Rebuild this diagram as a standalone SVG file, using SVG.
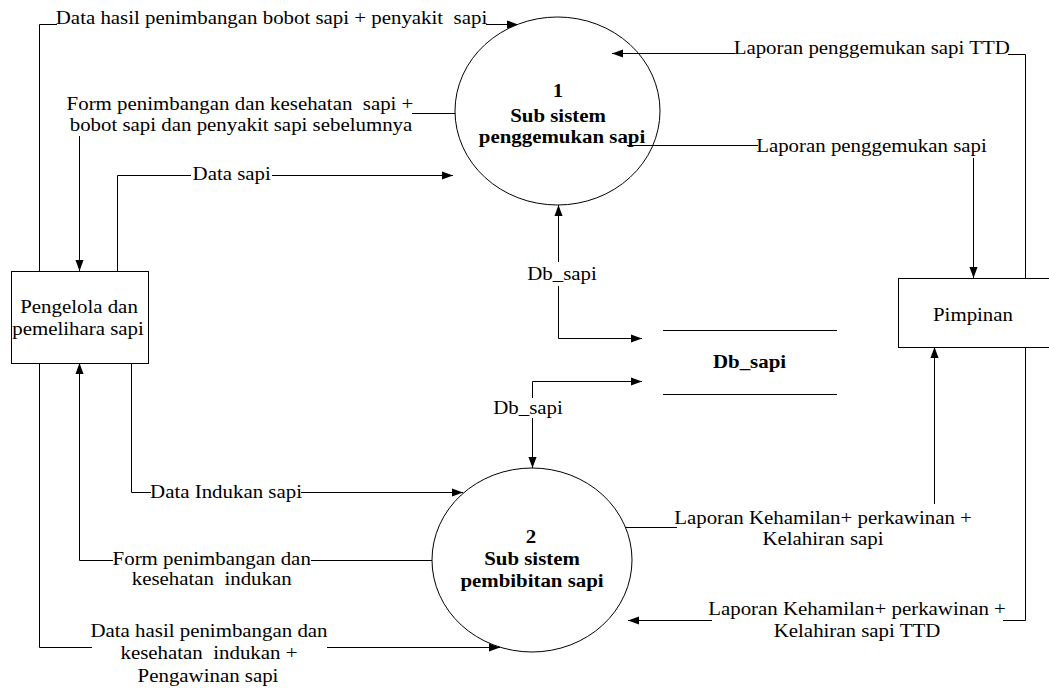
<svg xmlns="http://www.w3.org/2000/svg" width="1049" height="689" viewBox="0 0 1049 689">
  <style>
    text { font-family: "Liberation Serif", "Times New Roman", serif; font-size: 18px; fill: #000; white-space: pre; text-anchor: middle; }
    .b { font-weight: bold; }
    .ln { fill: none; stroke: #000; stroke-width: 1; }
    .shape { fill: none; stroke: #000; stroke-width: 1; }
  </style>
  <defs>
    <marker id="ah" viewBox="0 0 10 10" refX="10" refY="5" markerWidth="11" markerHeight="9" markerUnits="userSpaceOnUse" orient="auto-start-reverse" preserveAspectRatio="none">
      <path d="M0,0.5 L10,5 L0,9.5 Z" fill="#000"/>
    </marker>
  </defs>
  <rect width="1049" height="689" fill="#fff"/>

  <!-- connectors; labels are set in a slightly widened Times face -->
  <g id="connectors">
    <!-- Data hasil penimbangan bobot sapi + penyakit sapi -->
    <path class="ln" d="M39.5,271 V24.5 H57"/>
    <path class="ln" d="M486,24.5 H518" marker-end="url(#ah)"/>
    <text transform="translate(271.5 24) scale(1.16 1)">Data hasil penimbangan bobot sapi + penyakit  sapi</text>

    <!-- Form penimbangan dan kesehatan sapi -->
    <path class="ln" d="M455,113.5 H412"/>
    <path class="ln" d="M79.5,136 V271" marker-end="url(#ah)"/>
    <text transform="translate(240 110) scale(1.16 1)">Form penimbangan dan kesehatan  sapi +</text>
    <text transform="translate(241 131) scale(1.16 1)">bobot sapi dan penyakit sapi sebelumnya</text>

    <!-- Data sapi -->
    <path class="ln" d="M117.5,271 V175.5 H191"/>
    <path class="ln" d="M272,175.5 H453" marker-end="url(#ah)"/>
    <text transform="translate(231.7 179.5) scale(1.16 1)">Data sapi</text>

    <!-- Laporan penggemukan sapi TTD -->
    <path class="ln" d="M1025.5,278 V54.5 H1008"/>
    <path class="ln" d="M735,53.5 H612" marker-end="url(#ah)"/>
    <text transform="translate(871.7 54) scale(1.16 1)">Laporan penggemukan sapi TTD</text>

    <!-- Laporan penggemukan sapi -->
    <path class="ln" d="M627,145.5 H758"/>
    <path class="ln" d="M973.5,158 V278" marker-end="url(#ah)"/>
    <text transform="translate(871.5 152) scale(1.16 1)">Laporan penggemukan sapi</text>

    <!-- Db_sapi (process 1 <-> store) -->
    <path class="ln" d="M558.5,262 V205" marker-end="url(#ah)"/>
    <path class="ln" d="M558.5,286 V338.5 H642" marker-end="url(#ah)"/>
    <text transform="translate(562 280) scale(1.16 1)">Db_sapi</text>

    <!-- Db_sapi (store <-> process 2) -->
    <path class="ln" d="M532.5,398 V381.5 H642" marker-end="url(#ah)"/>
    <path class="ln" d="M532.5,418 V468" marker-end="url(#ah)"/>
    <text transform="translate(528 414) scale(1.16 1)">Db_sapi</text>

    <!-- Data Indukan sapi -->
    <path class="ln" d="M131.5,363 V492.5 H151"/>
    <path class="ln" d="M301,492.5 H463" marker-end="url(#ah)"/>
    <text transform="translate(226 498) scale(1.16 1)">Data Indukan sapi</text>

    <!-- Form penimbangan dan kesehatan indukan -->
    <path class="ln" d="M432,560.5 H311"/>
    <path class="ln" d="M113,560.5 H79.5 V363" marker-end="url(#ah)"/>
    <text transform="translate(211.7 565) scale(1.16 1)">Form penimbangan dan</text>
    <text transform="translate(211.7 585) scale(1.16 1)">kesehatan  indukan</text>

    <!-- Data hasil penimbangan dan kesehatan indukan + Pengawinan sapi -->
    <path class="ln" d="M39.5,363 V647.5 H92"/>
    <path class="ln" d="M327,647.5 H500" marker-end="url(#ah)"/>
    <text transform="translate(209 636.5) scale(1.16 1)">Data hasil penimbangan dan</text>
    <text transform="translate(209 659) scale(1.16 1)">kesehatan  indukan +</text>
    <text transform="translate(208 682) scale(1.16 1)">Pengawinan sapi</text>

    <!-- Laporan Kehamilan (process 2 -> Pimpinan) -->
    <path class="ln" d="M625,527.5 H677"/>
    <path class="ln" d="M934.5,504 V347" marker-end="url(#ah)"/>
    <text transform="translate(823 524) scale(1.16 1)">Laporan Kehamilan+ perkawinan +</text>
    <text transform="translate(823 545) scale(1.16 1)">Kelahiran sapi</text>

    <!-- Laporan Kehamilan TTD (Pimpinan -> process 2) -->
    <path class="ln" d="M1025.5,347 V620.5 H1003"/>
    <path class="ln" d="M712,620.5 H628" marker-end="url(#ah)"/>
    <text transform="translate(857 615) scale(1.16 1)">Laporan Kehamilan+ perkawinan +</text>
    <text transform="translate(857 637) scale(1.16 1)">Kelahiran sapi TTD</text>
  </g>

  <!-- process 1 -->
  <g id="proc1">
    <ellipse class="shape" cx="557.5" cy="111" rx="102.5" ry="94"/>
    <text class="b" transform="translate(558 97) scale(1.16 1)">1</text>
    <text class="b" transform="translate(558 122) scale(1.16 1)">Sub sistem</text>
    <text class="b" transform="translate(562 143) scale(1.16 1)">penggemukan sapi</text>
  </g>

  <!-- process 2 -->
  <g id="proc2">
    <ellipse class="shape" cx="532" cy="560" rx="100" ry="92"/>
    <text class="b" transform="translate(531 543) scale(1.16 1)">2</text>
    <text class="b" transform="translate(532 565) scale(1.16 1)">Sub sistem</text>
    <text class="b" transform="translate(532 587) scale(1.16 1)">pembibitan sapi</text>
  </g>

  <!-- external entity: Pengelola dan pemelihara sapi -->
  <g id="pengelola">
    <rect class="shape" x="11.5" y="271.5" width="137" height="92"/>
    <text transform="translate(79 313) scale(1.16 1)">Pengelola dan</text>
    <text transform="translate(78 334.5) scale(1.16 1)">pemelihara sapi</text>
  </g>

  <!-- external entity: Pimpinan -->
  <g id="pimpinan">
    <rect class="shape" x="898.5" y="278.5" width="160" height="69"/>
    <text transform="translate(973 321) scale(1.16 1)">Pimpinan</text>
  </g>

  <!-- data store -->
  <g id="db_sapi">
    <line class="ln" x1="663" y1="330.5" x2="837" y2="330.5"/>
    <line class="ln" x1="663" y1="394.5" x2="837" y2="394.5"/>
    <text class="b" transform="translate(749.5 368) scale(1.16 1)">Db_sapi</text>
  </g>
</svg>
